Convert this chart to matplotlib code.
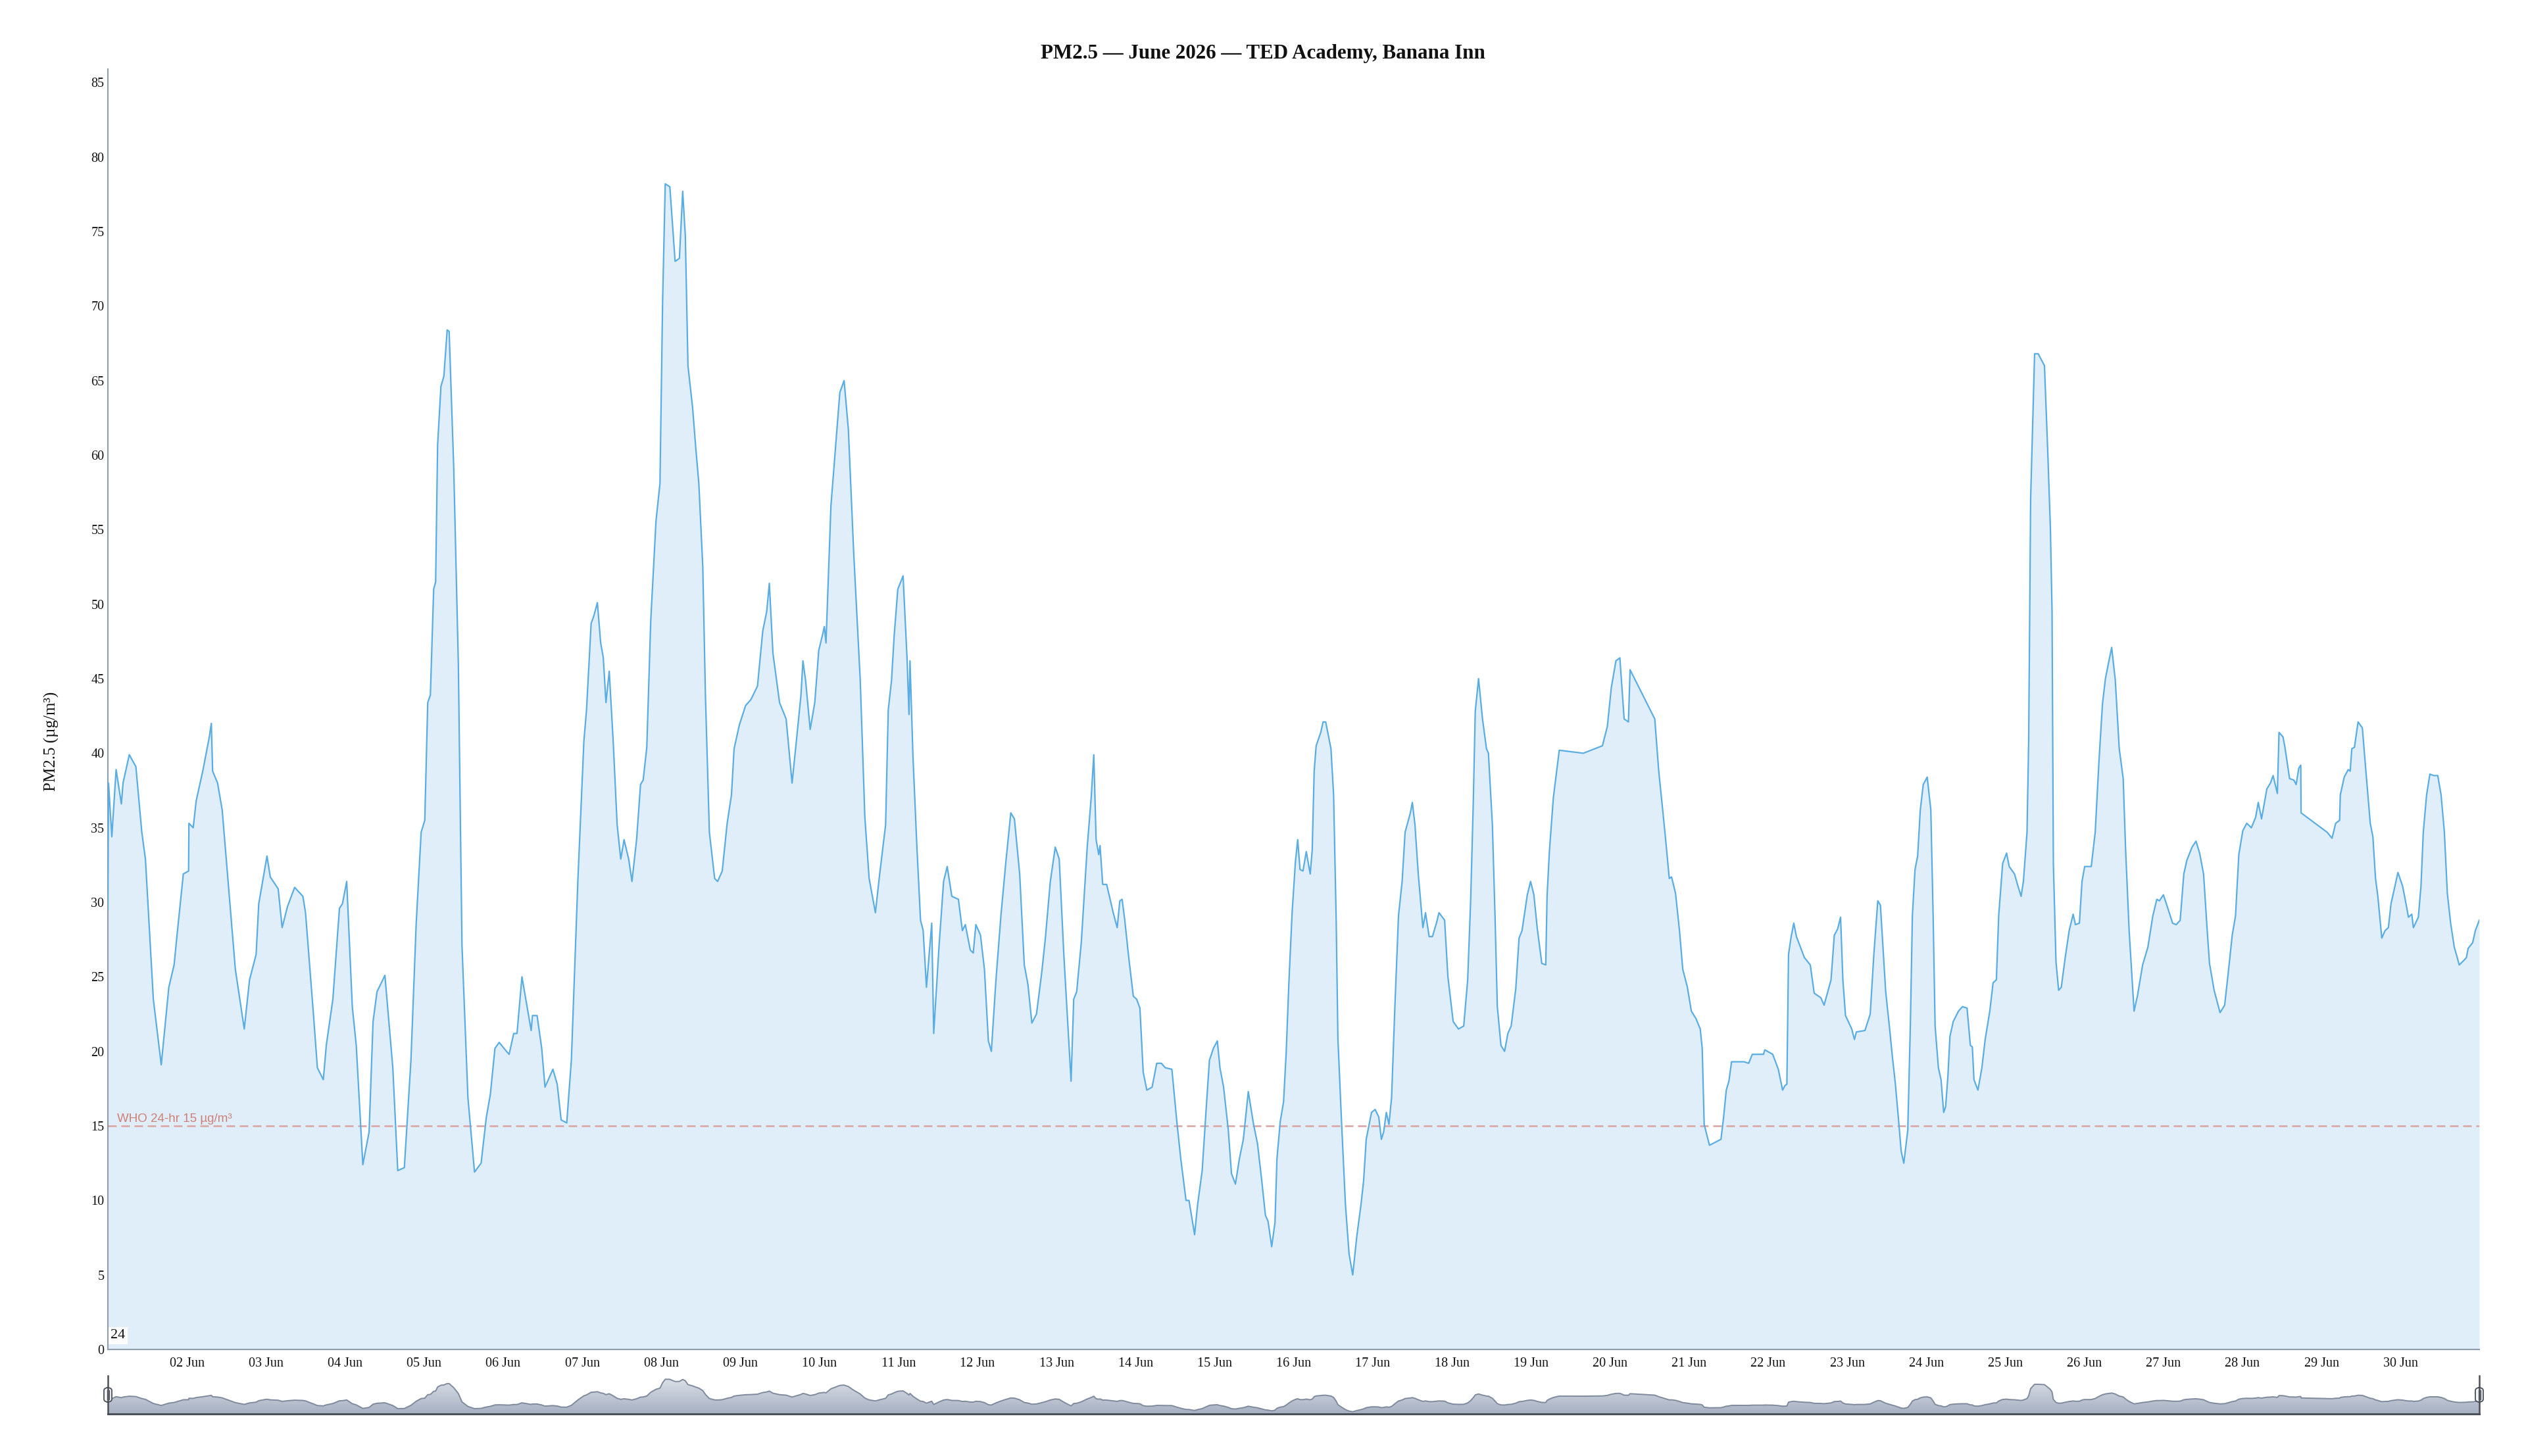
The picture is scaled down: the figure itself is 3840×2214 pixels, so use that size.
import numpy as np
import matplotlib
matplotlib.use("Agg")
import matplotlib.pyplot as plt
from matplotlib.colors import LinearSegmentedColormap
from matplotlib.patches import FancyBboxPatch
from matplotlib.lines import Line2D

# hours since 01 Jun 00:00 and PM2.5 readings (ug/m3)
HOURS = [
    0, 0.2, 1.2, 2.5, 4.1, 4.6, 6.5, 8.5, 10.3, 11.4, 13.8, 16.2, 18.5, 20.1, 20.9, 22.9, 24.5,
    24.6, 25.9, 26.8, 28.8, 30.8, 31.4, 31.8, 33.3, 34.7, 36.3, 38.7, 41.4, 43.0, 45.0, 45.8,
    48.3, 49.3, 51.7, 52.9, 54.5, 56.7, 59.2, 60.0, 62.4, 63.6, 65.4, 66.3, 68.3, 70.3, 71.2,
    72.5, 74.2, 75.4, 77.4, 79.3, 80.5, 81.7, 84.1, 86.5, 88.0, 90.0, 92.0, 93.6, 95.1,
    96.2, 97.1, 97.9, 98.9, 99.5, 100.1, 101.1, 102.0, 103.0, 103.6, 105.0, 106.4, 107.5, 109.3,
    111.3, 113.3, 114.9, 116.1, 117.5, 118.8,
    121.0, 121.8, 123.2, 124.2, 125.7, 128.5, 128.9, 130.3, 131.7, 132.7, 135.1, 136.4, 137.6,
    139.3, 140.7, 142.7,
    144.5, 145.3, 146.7, 147.5, 148.6, 149.6, 150.4, 151.2, 152.2, 153.4, 154.6, 155.7, 156.7,
    158.1, 159.1, 160.5, 161.7, 162.5, 163.6, 164.8, 166.4, 167.6,
    168.4, 169.2, 170.6, 172.2, 173.5, 174.5, 175.3, 176.1, 177.5, 178.5, 179.4, 180.6, 181.4,
    182.6, 184.2, 185.1, 186.5, 188.0, 189.3, 190.1, 191.7,
    193.6, 195.2, 197.2, 198.8, 200.0, 200.8, 201.9, 203.9, 205.9, 207.7, 209.0, 210.4, 211.0,
    211.8, 213.2, 214.6, 215.8,
    216.9, 217.5, 218.0, 219.5, 221.3, 222.2, 223.5, 224.8, 226.4, 228.4, 229.8, 231.1, 233.0,
    234.3, 236.1, 236.9, 237.9, 238.7,
    239.8, 241.4, 242.6, 243.2, 243.5, 244.4, 245.6, 246.7, 247.5, 248.5, 250.1, 250.7, 252.3,
    253.7, 254.8, 256.2, 258.2, 259.4, 260.3, 261.8, 262.7,
    263.5, 264.9, 266.1, 267.3, 268.2, 269.6, 271.1, 272.6, 274.1, 275.2, 276.8, 278.2, 279.3,
    280.5, 281.9, 283.5, 284.6, 286.1,
    287.6, 288.8, 290.2, 292.4, 293.2, 294.1, 295.5, 297.3, 298.5, 299.3, 300.0, 300.8, 301.2,
    302.0, 303.2, 305.2, 306.4, 307.2, 307.9, 308.7, 309.9,
    311.3, 312.3, 313.3, 314.3, 315.4, 317.0, 318.4, 319.8, 321.0, 323.0, 324.5, 325.7, 327.3,
    328.2, 329.9, 330.8, 332.2, 333.4, 334.4,
    335.6, 336.8, 337.6, 338.7, 340.1, 341.1, 342.3, 343.5, 344.7, 346.2, 347.8, 349.0, 350.2,
    351.4, 352.2, 353.3, 354.3, 354.9, 355.9, 356.9, 357.7,
    358.5, 359.5, 360.5, 361.2, 361.9, 362.8, 363.8, 365.0, 365.6, 366.2, 366.8, 368.2, 368.9,
    369.7, 371.3, 372.1, 372.9, 373.4, 374.5, 375.7, 376.8, 377.9, 379.2, 380.4, 381.2,
    382.0, 383.6, 384.7, 385.8, 386.6, 387.3, 388.1, 388.9, 389.7, 390.7, 391.8, 392.9, 393.8,
    395.4, 396.0, 396.8, 397.8, 399.2, 400.0, 401.1, 402.1, 403.3, 404.1, 405.8,
    406.8, 408.4, 410.0, 411.6, 412.8, 413.7, 414.5, 415.1, 416.1, 417.3, 418.5, 419.1, 420.3,
    421.1, 421.8, 422.9, 424.0, 425.0, 426.0, 427.4, 428.4, 429.3,
    430.9, 431.9, 432.9, 433.9, 435.3, 436.5, 436.9, 437.6, 438.8, 440.6, 447.9, 453.7,
    455.2, 456.4, 457.8, 459.0, 460.3, 461.6, 462.1, 469.6, 470.8, 472.0, 472.9, 474.0, 474.7,
    475.9, 477.1,
    478.1, 479.5, 480.7, 482.1, 483.4, 484.0, 484.6, 486.2, 489.7, 490.5, 491.3, 492.1, 492.9,
    496.7, 498.1, 499.2, 502.6, 503.0,
    505.4, 507.1, 508.4, 509.1, 509.7, 510.2, 511.0, 511.8, 512.6, 515.0, 516.8, 518.0, 520.0,
    521.0, 523.1, 524.1, 525.1, 526.0, 526.7, 527.5,
    529.4, 530.2, 530.8, 533.4, 535.0, 536.1, 537.3, 538.1, 539.7, 540.9, 541.7, 542.6, 543.6,
    544.4, 545.2, 546.4, 547.2, 547.8, 548.6, 549.4, 550.2, 551.1,
    552.3, 553.4, 554.1, 554.7, 555.7, 556.5, 557.3, 557.9, 558.6, 559.2, 560.2, 561.8, 563.0,
    564.4, 565.4, 566.0, 566.5, 567.7, 568.9, 569.9, 571.3, 572.3, 573.3, 574.0, 575.2,
    576.4, 577.2, 578.8, 579.7, 580.8, 581.5, 582.6, 583.1, 583.7, 584.9, 586.0, 587.9, 588.9,
    589.7, 590.2, 590.6, 591.4, 592.2, 593.0, 594.2, 595.4, 596.6, 597.3, 598.5, 599.3,
    600.1, 602.1, 603.3, 604.4, 605.5, 606.4, 607.2, 608.3, 609.4, 610.6, 611.8, 612.5, 613.6,
    615.1, 616.1, 617.7, 619.3, 620.8, 622.0, 622.8,
    624.0, 625.2, 626.8, 627.9, 629.1, 630.2, 631.1, 632.7, 633.9, 635.0, 636.2, 637.3, 638.0,
    639.4, 641.2, 642.6, 643.7, 644.9, 645.9, 646.9,
    648.1, 649.3, 650.7, 652.0, 652.8, 653.8, 655.4, 656.5, 657.3, 658.6, 659.1, 660.3, 660.9,
    662.3, 663.6, 664.3, 665.1, 665.7, 665.8,
    673.7, 675.2, 676.3, 677.5, 677.7, 678.9, 680.1, 680.7, 681.2, 682.0, 683.1, 684.4, 685.4,
    686.8, 687.6, 688.4, 689.1, 690.3, 691.3, 692.3, 693.1, 694.1,
    695.2, 696.6, 697.4, 698.4, 699.4, 699.9, 701.4, 702.2, 702.9, 703.9, 704.9, 706.1, 707.3,
    708.3, 709.3, 710.2, 711.2, 712.3, 713.2, 713.8, 715.2, 716.0, 716.5, 717.9, 718.7, 719.9,
]

PM25 = [
    29.5, 38.0, 34.4, 38.9, 36.6, 38.0, 39.9, 39.1, 34.7, 32.9, 23.5, 19.1, 24.3, 25.8, 27.6, 31.9, 32.1,
    35.3, 35.0, 36.8, 38.8, 41.1, 42.0, 38.8, 38.0, 36.2, 31.9, 25.5, 21.5, 24.8, 26.5, 29.9,
    33.1, 31.7, 30.9, 28.3, 29.7, 31.0, 30.4, 29.3, 22.5, 18.9, 18.1, 20.4, 23.5, 29.6, 29.9,
    31.4, 23.0, 20.4, 12.4, 14.6, 22.0, 24.0, 25.1, 18.9, 12.0, 12.2, 19.4, 28.6, 34.7,
    35.5, 43.4, 43.9, 51.0, 51.5, 60.7, 64.6, 65.3, 68.4, 68.3, 59.1, 45.9, 27.1, 16.9,
    11.9, 12.5, 15.6, 17.1, 20.2, 20.6,
    20.0, 19.8, 21.2, 21.2, 25.0, 21.4, 22.4, 22.4, 20.2, 17.6, 18.8, 17.8, 15.4,
    15.2, 19.4, 31.6,
    40.8, 42.9, 48.7, 49.2, 50.1, 47.4, 46.4, 43.4, 45.5, 40.8, 35.2, 32.9, 34.2,
    32.9, 31.4, 34.2, 37.9, 38.2, 40.4, 48.9, 55.6, 58.1,
    70.3, 78.2, 78.0, 73.0, 73.2, 77.7, 74.7, 66.0, 63.2, 60.4, 58.1, 52.5, 43.9,
    34.7, 31.6, 31.4, 32.1, 35.3, 37.2, 40.3, 41.9,
    43.2, 43.6, 44.5, 48.2, 49.5, 51.4, 46.7, 43.4, 42.3, 38.0, 40.8, 43.9, 46.2,
    44.9, 41.6, 43.4, 46.9,
    47.9, 48.5, 47.4, 56.6, 61.7, 64.2, 65.0, 61.7, 53.5, 44.9, 35.7, 31.6, 29.3,
    31.9, 35.2, 42.9, 44.9, 47.9,
    51.0, 51.9, 46.4, 42.6, 46.2, 39.8, 33.7, 28.8, 28.1, 24.3, 28.6, 21.2, 27.0,
    31.4, 32.4, 30.4, 30.2, 28.1, 28.5, 26.8, 26.6,
    28.5, 27.8, 25.5, 20.7, 20.0, 24.8, 29.1, 32.7, 36.0, 35.6, 31.9, 25.8, 24.5,
    21.9, 22.5, 25.3, 27.6, 31.4,
    33.7, 32.9, 26.5, 18.0, 23.5, 24.0, 27.3, 33.7, 37.0, 39.9, 34.2, 33.2, 33.8,
    31.2, 31.2, 29.3, 28.3, 30.1, 30.2, 28.8, 26.3,
    23.7, 23.5, 22.9, 18.6, 17.4, 17.6, 19.2, 19.2, 18.9, 18.8, 15.3, 12.8, 10.0,
    10.0, 7.7, 9.7, 12.0, 16.1, 19.4,
    20.2, 20.7, 18.9, 17.6, 14.8, 11.8, 11.1, 12.8, 14.1, 17.3, 15.1, 13.8, 11.5,
    9.0, 8.6, 6.9, 8.5, 12.8, 15.3, 16.6, 19.9,
    24.5, 29.3, 32.7, 34.2, 32.2, 32.1, 33.4, 31.9, 33.5, 38.8, 40.5, 41.4, 42.1,
    42.1, 40.3, 37.2, 28.6, 20.9, 15.3, 9.7, 6.4, 5.0, 7.7, 9.7, 11.3,
    14.1, 15.9, 16.1, 15.6, 14.1, 14.6, 15.9, 15.1, 16.9, 23.0, 29.1, 31.4, 34.7,
    36.0, 36.7, 35.2, 31.9, 28.3, 29.3, 27.7, 27.7, 28.6, 29.3, 28.8,
    25.0, 22.0, 21.5, 21.7, 24.8, 30.1, 36.7, 42.8, 45.0, 42.3, 40.3, 40.0, 35.2,
    29.1, 23.0, 20.4, 20.0, 21.2, 21.7, 24.2, 27.6, 28.1,
    30.5, 31.4, 30.5, 28.3, 25.9, 25.8, 30.4, 33.4, 37.0, 40.2, 40.0, 40.5,
    41.8, 44.4, 46.2, 46.4, 42.3, 42.1, 45.6, 42.3, 38.8, 36.2, 34.2, 31.6, 31.7,
    30.6, 28.1,
    25.5, 24.3, 22.7, 22.2, 21.5, 20.2, 15.1, 13.7, 14.1, 15.6, 17.4, 18.0, 19.3,
    19.3, 19.2, 19.8, 19.8, 20.1,
    19.8, 18.8, 17.4, 17.7, 17.8, 26.5, 27.7, 28.6, 27.7, 26.3, 25.8, 23.9, 23.6,
    23.1, 24.8, 27.8, 28.2, 29.0, 24.8, 22.4,
    21.5, 20.8, 21.3, 21.4, 22.5, 26.5, 30.1, 29.8, 24.0, 21.5, 19.7, 17.9, 15.4,
    13.3, 12.5, 14.7, 21.9, 29.1, 32.2, 33.1, 36.2, 37.9,
    38.4, 36.2, 29.1, 21.7, 18.9, 18.1, 15.9, 16.3, 18.4, 21.0, 22.0, 22.7, 23.0,
    22.9, 20.4, 20.3, 18.1, 17.4, 18.9, 20.8, 22.7, 24.6, 24.8, 29.1, 32.6,
    33.3, 32.4, 31.9, 31.2, 30.4, 31.4, 34.7, 40.8, 57.1, 66.8, 66.8, 66.0, 60.2,
    55.1, 49.5, 32.6, 26.0, 24.1, 24.3, 26.3, 28.1, 29.2, 28.5, 28.6, 31.4,
    32.4, 32.4, 34.7, 39.3, 43.3, 45.0, 45.9, 47.1, 44.9, 40.3, 38.3, 33.7, 28.1,
    22.7, 23.7, 25.8, 27.0, 29.1, 30.2, 30.1,
    30.5, 29.7, 28.6, 28.5, 28.8, 31.9, 32.8, 33.7, 34.1, 33.3, 31.9, 28.1, 25.9,
    24.1, 22.6, 23.1, 25.3, 27.8, 29.1, 33.2,
    34.8, 35.3, 35.0, 35.7, 36.7, 35.6, 37.6, 38.0, 38.5, 37.3, 41.4, 41.1, 40.4,
    38.3, 38.2, 37.9, 39.0, 39.2, 36.0,
    34.7, 34.3, 35.3, 35.5, 37.2, 38.4, 38.9, 38.8, 40.3, 40.4, 42.1, 41.7, 39.0,
    35.3, 34.4, 31.6, 30.4, 27.6, 28.1, 28.3, 29.9, 30.9,
    32.0, 31.1, 30.2, 29.0, 29.2, 28.3, 29.0, 31.1, 34.7, 37.2, 38.6, 38.5, 38.5,
    37.2, 34.7, 30.6, 28.6, 27.0, 26.3, 25.8, 26.1, 26.3, 26.9, 27.3, 28.1, 28.8,
]

DAY_TICKS = [24 * d for d in range(1, 30)]
DAY_LABELS = [f"{d:02d} Jun" for d in range(2, 31)]
Y_TICKS = list(range(0, 90, 5))
WHO_LIMIT = 15
WHO_LABEL = "WHO 24-hr 15 µg/m³"
TITLE = "PM2.5 — June 2026 — TED Academy, Banana Inn"
Y_LABEL = "PM2.5 (µg/m³)"

W, H = 3840, 2214
SERIF = ["Liberation Serif", "DejaVu Serif"]
SANS = ["Liberation Sans", "DejaVu Sans"]

LINE_BLUE = "#5aade2"
FILL_BLUE = "#e0eefa"
AXIS_GREY = "#8f9cae"


def fx(px):
    return px / W


def fy(py):
    return 1 - py / H


fig = plt.figure(figsize=(W / 100, H / 100), dpi=100)
fig.patch.set_facecolor("white")

# main plot area (pixel positions measured on the reference)
left, right, top, bottom = 164, 3769, 105, 2052
ax = fig.add_axes([fx(left), fy(bottom), (right - left) / W, (bottom - top) / H])

ax.fill_between(HOURS, PM25, 0, color=FILL_BLUE, lw=0, zorder=1)
ax.plot(HOURS, PM25, color=LINE_BLUE, lw=1.6, zorder=3)

ax.axhline(WHO_LIMIT, color="#dba3a0", lw=1.8, linestyle=(0, (5.2, 2.8)), zorder=2)
ax.annotate(WHO_LABEL, xy=(0, WHO_LIMIT), xytext=(10, 4), textcoords="offset points",
            ha="left", va="baseline", fontsize=13.5, color="#cf8076", family=SANS, zorder=4)

ax.set_xlim(HOURS[0], HOURS[-1])
ax.set_ylim(0, 85.9)
ax.set_xticks(DAY_TICKS)
ax.set_xticklabels(DAY_LABELS)
ax.set_yticks(Y_TICKS)
ax.tick_params(axis="both", length=0, labelsize=14.5, colors="#111111")
ax.tick_params(axis="x", pad=9)
ax.tick_params(axis="y", pad=4)
for lbl in ax.get_xticklabels() + ax.get_yticklabels():
    lbl.set_family(SERIF)

for side in ("top", "right"):
    ax.spines[side].set_visible(False)
for side in ("left", "bottom"):
    ax.spines[side].set_color(AXIS_GREY)
    ax.spines[side].set_linewidth(1.5)
ax.set_facecolor("white")

# stray "24" label in the lower-left corner
ax.text(0.0012, 0.006, "24", transform=ax.transAxes, ha="left", va="bottom",
        fontsize=16, family=SERIF, color="#111111", zorder=5,
        bbox=dict(boxstyle="square,pad=0.15", fc="white", ec="none"))

fig.text(0.5, fy(81), TITLE, ha="center", va="center", fontsize=22.3,
         fontweight="bold", family=SERIF, color="#111111")
fig.text(fx(78), fy(1127), Y_LABEL, ha="center", va="center", rotation=90,
         fontsize=18, family=SERIF, color="#111111")

# zoom slider strip under the chart
s_top, s_bot = 2092, 2150
sl = fig.add_axes([fx(left), fy(s_bot), (right - left) / W, (s_bot - s_top) / H])
sl.set_xlim(HOURS[0], HOURS[-1])
sl.set_ylim(0, 86)
sl.axis("off")
shade = sl.fill_between(HOURS, PM25, 0, color="none", lw=0)
grad = np.linspace(0, 1, 256).reshape(-1, 1)
cmap = LinearSegmentedColormap.from_list("slider", ["#a6b0c2", "#dadee6"])
im = sl.imshow(grad, extent=[HOURS[0], HOURS[-1], 0, max(PM25)], origin="lower",
               aspect="auto", cmap=cmap, zorder=1)
im.set_clip_path(shade.get_paths()[0], transform=sl.transData)
sl.plot(HOURS, PM25, color="#7f8a9c", lw=1.4, zorder=2)

fig.add_artist(Line2D([fx(left), fx(right)], [fy(s_bot), fy(s_bot)], color="#4b5058", lw=2.2))
for hx in (left, right):
    fig.add_artist(Line2D([fx(hx), fx(hx)], [fy(s_top), fy(s_bot)], color="#4b5058", lw=1.8))
    fig.add_artist(FancyBboxPatch((fx(hx - 6), fy(2132)), 12 / W, 22 / H,
                                  boxstyle="round,pad=0,rounding_size=0.002",
                                  transform=fig.transFigure, fc="#f2f3f5", ec="#4b5058", lw=1.3))
    for dx in (-1.5, 1.5):
        fig.add_artist(Line2D([fx(hx + dx), fx(hx + dx)], [fy(2114), fy(2128)],
                              color="#4b5058", lw=0.9))

fig.savefig("out.png", dpi=100, facecolor="white")
